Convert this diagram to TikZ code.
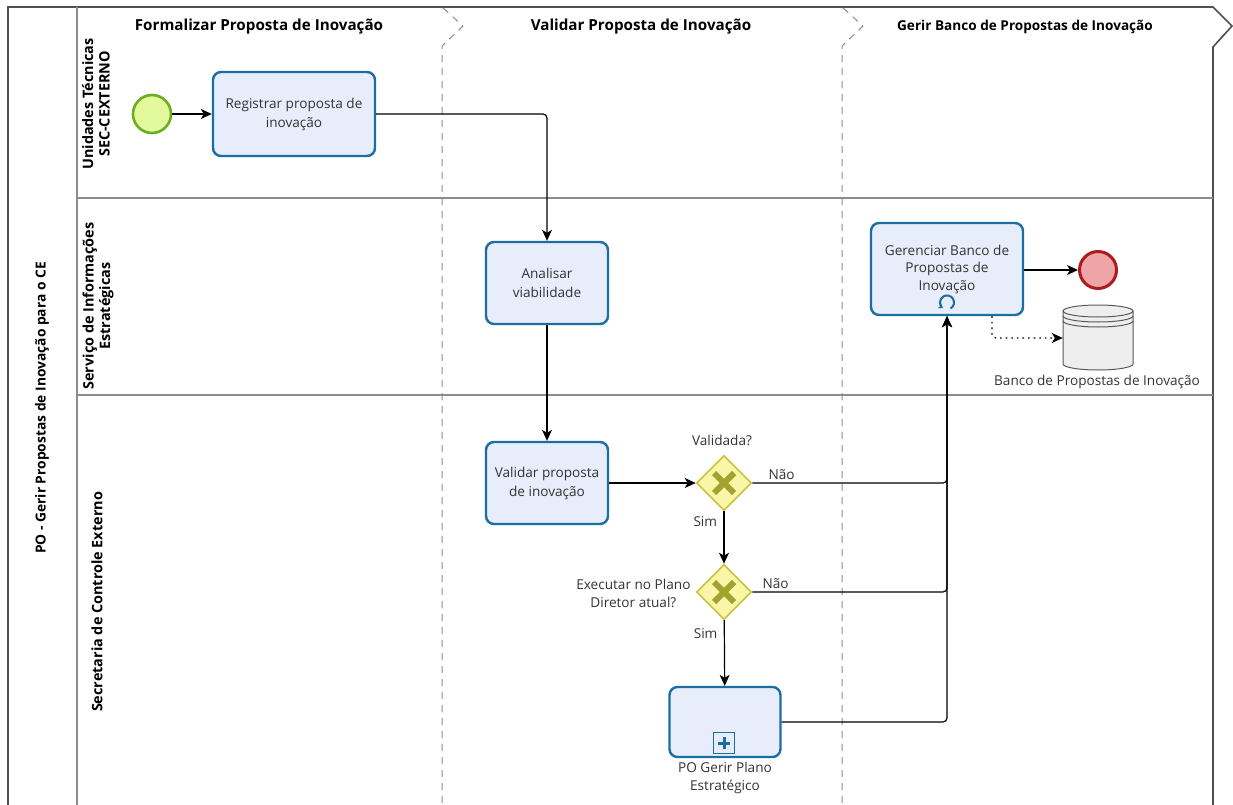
\documentclass[tikz,border=0pt]{standalone}
\usepackage{fontspec}
\setmainfont{Open Sans}
\usetikzlibrary{shapes.geometric, arrows, arrows.meta, positioning}

\definecolor{taskfill}{HTML}{E8EDFC}
\definecolor{taskline}{HTML}{1B6EA3}
\definecolor{startfill}{HTML}{E3FA9C}
\definecolor{startline}{HTML}{6AAE22}
\definecolor{endfill}{HTML}{EFA4A7}
\definecolor{endline}{HTML}{AD1B1F}
\definecolor{gwfill}{HTML}{F9F6A8}
\definecolor{gwline}{HTML}{C9C43C}
\definecolor{gwmark}{HTML}{A3A22E}
\definecolor{laneline}{HTML}{8C8C8C}
\definecolor{poolline}{HTML}{505050}
\definecolor{storefill}{HTML}{EEEEEE}

\tikzstyle{task} = [rectangle, 
rounded corners=8pt, 
minimum width=122pt, 
minimum height=82pt, 
align=center, 
draw=taskline, 
line width=2.4pt, 
fill=taskfill, 
text=black!80, 
font=\fontsize{13.6}{19}\selectfont]
\tikzstyle{startev} = [circle, minimum size=38pt, draw=startline, fill=startfill, line width=2.6pt]
\tikzstyle{endev} = [circle, minimum size=37pt, draw=endline, fill=endfill, line width=3pt]
\tikzstyle{gateway} = [diamond, 
minimum width=55pt, 
minimum height=55pt, 
inner sep=0pt, 
draw=gwline, 
fill=gwfill, 
line width=1.6pt]
\tikzstyle{xmark} = [gwmark, line width=6pt]
\tikzstyle{lbl} = [text=black!80, align=center, font=\fontsize{13.6}{18}\selectfont]
\tikzstyle{lanetitle} = [rotate=90, align=center, font=\bfseries\fontsize{14.4}{16.5}\selectfont]
\tikzstyle{phase} = [font=\bfseries\fontsize{15.2}{18}\selectfont]
\tikzstyle{arrow} = [line width=1.2pt, ->, >={Stealth[length=11pt, width=10pt, inset=3pt]}]
\tikzstyle{assoc} = [arrow, dash pattern=on 1.6pt off 4pt, rounded corners=4pt]

\begin{document}
\begin{tikzpicture}[x=1pt, y=-1pt]

  \useasboundingbox[fill=white] (0,0) rectangle (1233,805);

  % pool, lanes and phases
  \draw [poolline, line width=1.6pt] (8,815) -- (8,7) -- (1213,7) -- (1232,26) -- (1213,47) -- (1213,815);
  \draw [laneline, line width=1.2pt] (77,7) -- (77,815);
  \draw [laneline, line width=1.2pt] (77,198) -- (1213,198);
  \draw [laneline, line width=1.2pt] (77,395) -- (1213,395);
  \foreach \x in {443, 843}
    \draw [laneline, line width=1pt, dash pattern=on 7pt off 6pt] (\x,8) -- (\x+20,26) -- (\x-1,46) -- (\x-1,815);

  \node (pool) [lanetitle, font=\bfseries\fontsize{13.8}{16}\selectfont] at (42,408) {PO - Gerir Propostas de Inovação para o CE};
  \node (unidades) [lanetitle] at (96,104) {Unidades Técnicas\\SEC-CEXTERNO};
  \node (servico) [lanetitle] at (98,306) {Serviço de Informações\\Estratégicas};
  \node (secretaria) [lanetitle] at (97,602) {Secretaria de Controle Externo};

  \node (formalizar) [phase] at (259,27) {Formalizar Proposta de Inovação};
  \node (validarfase) [phase] at (641,27) {Validar Proposta de Inovação};
  \node (gerirfase) [phase, font=\bfseries\fontsize{13.6}{16}\selectfont] at (1025,27) {Gerir Banco de Propostas de Inovação};

  % flow objects
  \node (inicio) [startev] at (152,114) {};
  \node (registrar) [task, minimum width=162pt, minimum height=84pt] at (294,114) {Registrar proposta de\\inovação};
  \node (analisar) [task] at (547,283) {Analisar\\viabilidade};
  \node (validar) [task, below of=analisar, node distance=200pt] {Validar proposta\\de inovação};
  \node (gw1) [gateway] at (724,483) {};
  \node (gw2) [gateway, below of=gw1, node distance=109pt] {};
  \node (plano) [task, minimum width=111pt, minimum height=70pt] at (725,722) {};
  \node (mais) [draw=taskline, line width=1.8pt, fill=taskfill, minimum size=21pt, inner sep=0pt] at (724,743) {};
  \node (gerenciar) [task, minimum width=152pt, minimum height=92pt, font=\fontsize{13.6}{17.5}\selectfont] at (947,269) {Gerenciar Banco de\\Propostas de\\Inovação};
  \node (fim) [endev] at (1098,270) {};
  \node (banco) [minimum width=70pt, minimum height=65pt] at (1098,338) {};

  \draw [taskline, line width=3pt] ([yshift=-6pt]mais.center) -- ([yshift=6pt]mais.center);
  \draw [taskline, line width=3pt] ([xshift=-6pt]mais.center) -- ([xshift=6pt]mais.center);
  \draw [taskline, line width=2pt, -{Stealth[length=4.5pt, width=6pt]}] (950.5,308.5) arc[start angle=60, end angle=-235, radius=7];

  \foreach \g in {gw1, gw2} {
    \draw [xmark] ([shift={(-10,-10)}]\g.center) -- ([shift={(10,10)}]\g.center);
    \draw [xmark] ([shift={(-10,10)}]\g.center) -- ([shift={(10,-10)}]\g.center);
  }

  % data store
  \draw [black!65, fill=storefill, line width=1pt] (1063,311) arc[start angle=180, end angle=360, x radius=35, y radius=6] -- (1133,364) arc[start angle=0, end angle=180, x radius=35, y radius=6] -- cycle;
  \foreach \y in {311, 316, 321}
    \draw [black!65, line width=1pt] (1063,\y) arc[start angle=180, end angle=0, x radius=35, y radius=6];

  \node (plabel) [lbl, below=0pt of plano] {PO Gerir Plano\\Estratégico};
  \node (blabel) [lbl] at (1097,382) {Banco de Propostas de Inovação};
  \node (q1) [lbl] at (722,440) {Validada?};
  \node (q2) [lbl, anchor=east] at (694,593) {Executar no Plano\\Diretor atual?};

  % connectors
  \draw [arrow] (inicio) -- (registrar);
  \draw [arrow, rounded corners=4pt] (registrar.east) -| (analisar.north);
  \draw [arrow] (analisar) -- (validar);
  \draw [arrow] (validar) -- (gw1);
  \draw [arrow] (gw1) -- node[lbl, pos=0.2, left=3pt] {Sim} (gw2);
  \draw [arrow] (gw2) -- node[lbl, pos=0.2, left=3pt] {Sim} (plano);
  \draw [arrow, rounded corners=4pt] (gw1.east) -- node[lbl, pos=0.15, above=-1pt] {Não} (947,483) -- (gerenciar.south);
  \draw [arrow, rounded corners=4pt] (gw2.east) -- node[lbl, pos=0.12, above=-1pt] {Não} (947,592) -- (gerenciar.south);
  \draw [arrow, rounded corners=4pt] (plano.east) -| (gerenciar.south);
  \draw [arrow] (gerenciar.east |- fim) -- (fim);
  \draw [assoc] ([xshift=45pt]gerenciar.south) |- (banco.west);

\end{tikzpicture}
\end{document}
